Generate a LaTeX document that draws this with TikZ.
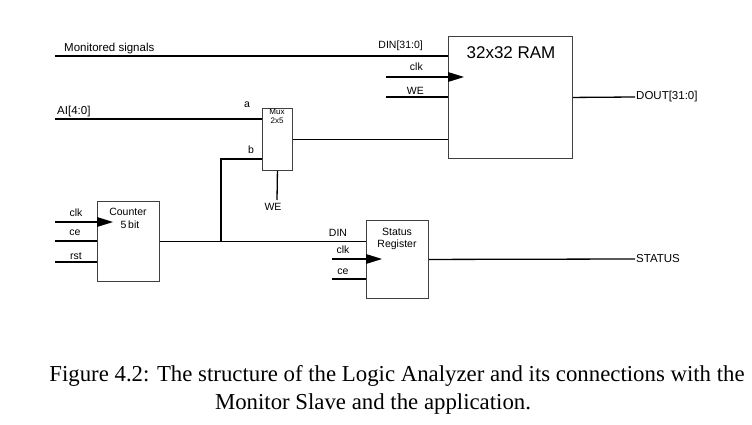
\documentclass[tikz,border=0pt]{standalone}
\usepackage{fontspec}
\setmainfont{Liberation Serif}
\setsansfont{Liberation Sans}
\begin{document}
\begin{tikzpicture}[x=1pt,y=-1pt,
  box/.style={draw=black!75, line width=0.9pt, inner sep=0pt, anchor=north west},
  sig/.style={line width=1.3pt},
  lbl/.style={font=\sffamily\fontsize{10.5}{11}\selectfont, inner sep=0pt},
  biglbl/.style={font=\sffamily\fontsize{11.5}{12}\selectfont, inner sep=0pt},
  muxlbl/.style={font=\sffamily\fontsize{8}{8}\selectfont, inner sep=0pt},
  captext/.style={font=\fontsize{22.8}{24}\selectfont, inner sep=0pt},
  clkmark/.pic={\fill (0,-5) -- (16,0) -- (0,5) -- cycle;}]
\useasboundingbox (0,0) rectangle (752,425);
% boxes
\node[box, minimum width=124pt, minimum height=122pt] (ram) at (448,36) {};
\node[box, minimum width=30pt, minimum height=62pt] (mux) at (262,108) {};
\node[box, minimum width=62pt, minimum height=80pt] (cnt) at (97,201) {};
\node[box, minimum width=62pt, minimum height=78pt] (sr) at (366,220) {};
% box texts
\node[font=\sffamily\fontsize{17}{18}\selectfont, inner sep=0pt] (ramtxt) at (511,53) {32x32 RAM};
\node[muxlbl] (muxt1) at (277,112) {Mux};
\node[muxlbl] (muxt2) at (277,121) {2x5};
\node[lbl] (cntt1) at (128,212) {Counter};
\node[lbl] (cntt2) at (130,225) {5\,bit};
\node[lbl] (srt1) at (397,232) {Status};
\node[lbl] (srt2) at (397,245) {Register};
% coordinates
\coordinate (ms) at (55,56);
\coordinate (rclk) at (386,77);
\coordinate (rwe) at (386,97);
\coordinate (ai) at (55,119);
\coordinate (bpt) at (221,159);
\coordinate (mwe) at (277,200);
\coordinate (dout) at (635,97);
\coordinate (cclk) at (55,222);
\coordinate (cce) at (55,241);
\coordinate (crst) at (55,262);
\coordinate (sclk) at (332,259);
\coordinate (sce) at (332,279);
\coordinate (stat) at (635,259);
% RAM connections
\draw[sig] (ms) -- (ms -| ram.west);
\draw[sig] (rclk) -- (rclk -| ram.west);
\pic at (rclk -| ram.west) {clkmark};
\draw[sig] (rwe) -- (rwe -| ram.west);
\draw[sig] (mux.east) -- (mux.east -| ram.west);
\draw[sig] (ram.east) -- (dout);
% mux connections
\draw[sig] (ai) -- (ai -| mux.west);
\draw[sig] (cnt.east -| bpt) -- (bpt) -- (bpt -| mux.west);
\draw[sig] (mux.south) -- (mwe);
% counter
\draw[sig] (cclk) -- (cclk -| cnt.west);
\pic at (cclk -| cnt.west) {clkmark};
\draw[sig] (cce) -- (cce -| cnt.west);
\draw[sig] (crst) -- (crst -| cnt.west);
\draw[sig] (cnt.east) -- (cnt.east -| sr.west);
% status register
\draw[sig] (sclk) -- (sclk -| sr.west);
\pic at (sclk -| sr.west) {clkmark};
\draw[sig] (sce) -- (sce -| sr.west);
\draw[sig] (sr.east) -- (stat);
% labels
\node[biglbl, anchor=west] (lms) at (64,49) {Monitored signals};
\node[lbl, anchor=east] (ldin) at (423,46) {DIN[31:0]};
\node[lbl, anchor=east] (lrclk) at (423,67) {clk};
\node[lbl, anchor=east] (lrwe) at (424,91) {WE};
\node[biglbl, anchor=west] (lai) at (57,112) {AI[4:0]};
\node[lbl] (la) at (247,105) {a};
\node[lbl] (lb) at (251,150) {b};
\node[lbl] (lmwe) at (273,207) {WE};
\node[biglbl, anchor=west] (ldout) at (636,97) {DOUT[31:0]};
\node[biglbl, anchor=west] (lstat) at (636,259) {STATUS};
\node[lbl] (lcclk) at (76,213) {clk};
\node[lbl] (lcce) at (75,233) {ce};
\node[lbl] (lcrst) at (76,256) {rst};
\node[lbl] (lsdin) at (338,233) {DIN};
\node[lbl] (lsclk) at (343,250) {clk};
\node[lbl] (lsce) at (343,272) {ce};
% caption
\node[captext] (cap1) at (397,376) {Figure 4.2: The structure of the Logic Analyzer and its connections with the};
\node[captext] (cap2) at (373,404) {Monitor Slave and the application.};
\end{tikzpicture}
\end{document}
